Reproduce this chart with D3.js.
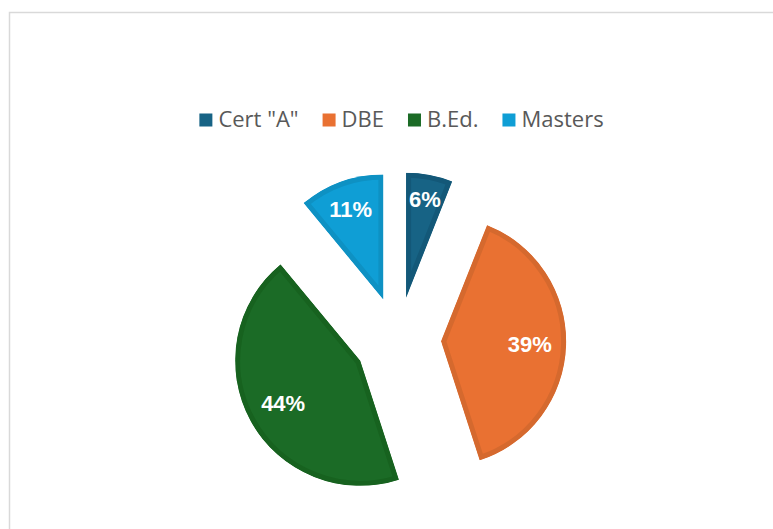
<!DOCTYPE html>
<html>
<head>
<meta charset="utf-8">
<script src="https://cdn.jsdelivr.net/npm/d3@7"></script>
<style>
  html, body { margin: 0; padding: 0; background: #ffffff; }
  svg { display: block; }
</style>
</head>
<body>
<svg id="chart" width="773" height="529"></svg>
<script>
// Qualification shares (percent)
const categories = ['Cert "A"', 'DBE', 'B.Ed.', 'Masters'];
const values = [6, 39, 44, 11];
const fillColors = ['#176385', '#e97132', '#1b6b26', '#0f9ed5'];
const edgeColors = ['#135878', '#d5692e', '#17621f', '#0e91c3'];

const width = 773, height = 529;
const svg = d3.select('#chart');

// chart frame (only the top and left edges fall inside the view)
svg.append('rect')
  .attr('x', 9.5).attr('y', 12.5)
  .attr('width', 900).attr('height', 700)
  .attr('fill', '#ffffff')
  .attr('stroke', '#d9d9d9')
  .attr('stroke-width', 1.5);

const fill = d3.scaleOrdinal().domain(categories).range(fillColors);
const edge = d3.scaleOrdinal().domain(categories).range(edgeColors);

// pie geometry
const cx = 398, cy = 340, radius = 125;
const explode = 0.345 * radius;

const pie = d3.pie().sort(null).value(d => d.value);
const arcs = pie(categories.map((c, i) => ({ name: c, value: values[i] })));
const arc = d3.arc().innerRadius(0).outerRadius(radius);

const defs = svg.append('defs');
const pieG = svg.append('g').attr('transform', `translate(${cx},${cy})`);

arcs.forEach((a, i) => {
  const mid = (a.startAngle + a.endAngle) / 2;
  const ux = Math.sin(mid), uy = -Math.cos(mid);
  const g = pieG.append('g')
    .attr('transform', `translate(${ux * explode},${uy * explode})`);

  const clipId = 'slice-clip-' + i;
  defs.append('clipPath').attr('id', clipId)
    .append('path').attr('d', arc(a));

  // slice with an inner darker border
  g.append('path')
    .attr('d', arc(a))
    .attr('fill', fill(a.data.name))
    .attr('stroke', edge(a.data.name))
    .attr('stroke-width', 10)
    .attr('stroke-linejoin', 'miter')
    .attr('clip-path', `url(#${clipId})`);

  // value label placed toward the outer end of the slice
  const label = g.append('text')
    .attr('text-anchor', 'middle')
    .attr('dy', '0.36em')
    .attr('fill', '#ffffff')
    .attr('font-family', '"Liberation Sans", Arial, sans-serif')
    .attr('font-weight', 'bold')
    .attr('font-size', 22)
    .text(a.data.value + '%');
  const bb = label.node().getBBox();
  const hw = bb.width / 2, hh = 7.8;
  const dist = radius - (hw * Math.abs(ux) + hh * Math.abs(uy)) - 14;
  label.attr('x', ux * dist).attr('y', uy * dist);
});

// legend
const legend = svg.append('g');
const legendFont = 22, box = 13, boxGap = 6, itemGap = 24;
let lx = 0;
categories.forEach(c => {
  const item = legend.append('g').attr('transform', `translate(${lx},0)`);
  item.append('rect')
    .attr('x', 0).attr('y', -13.5)
    .attr('width', box).attr('height', box)
    .attr('fill', fill(c));
  const t = item.append('text')
    .attr('x', box + boxGap).attr('y', 0)
    .attr('fill', '#595959')
    .attr('font-family', '"Open Sans", sans-serif')
    .attr('font-size', legendFont)
    .text(c);
  lx += box + boxGap + t.node().getComputedTextLength() + itemGap;
});
const legendWidth = lx - itemGap;
legend.attr('transform', `translate(${401.5 - legendWidth / 2},127)`);
</script>
</body>
</html>
